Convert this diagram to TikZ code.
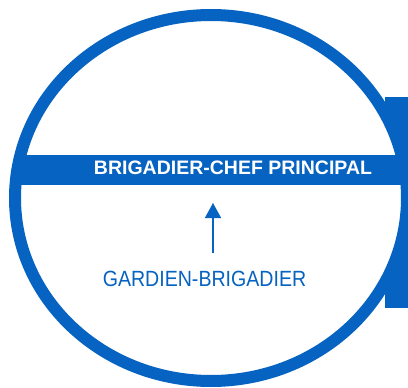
\documentclass[tikz,border=0pt]{standalone}
\usepackage{fontspec}
\setmainfont{Liberation Sans}
\newfontfamily\narrowsans[FakeStretch=0.89]{Liberation Sans}
\usetikzlibrary{arrows.meta}
\definecolor{mblue}{RGB}{6,99,193}
\tikzset{
  ring/.style={draw=mblue, line width=12pt},
  bandtext/.style={text=white, font=\bfseries\fontsize{19.5}{22}\selectfont, inner sep=0pt, anchor=base},
  lowtext/.style={text=mblue, font=\narrowsans\fontsize{22}{24}\selectfont, inner sep=0pt, anchor=base},
  uparrow/.style={draw=mblue, line width=1.5pt, -{Triangle[width=16pt,length=15pt]}}
}
\begin{document}
\begin{tikzpicture}[x=1pt,y=-1pt]
\useasboundingbox (0,0) rectangle (408,388);
% side tab
\fill[mblue] (385,97) rectangle (408,308);
% circle interior
\fill[white] (211,198) ellipse [x radius=196, y radius=183];
% band clipped inside circle
\begin{scope}
  \clip (211,198) ellipse [x radius=196, y radius=183];
  \fill[mblue] (0,155) rectangle (408,185);
\end{scope}
% ring
\draw[ring] (211,198) ellipse [x radius=196, y radius=183];
% texts
\node[bandtext] (chef) at (233,175) {BRIGADIER-CHEF PRINCIPAL};
\node[lowtext] (gardien) at (204.5,286) {GARDIEN-BRIGADIER};
\coordinate (astart) at (213,253);
\coordinate (aend) at (213,203);
\draw[uparrow] (astart) -- (aend);
\end{tikzpicture}
\end{document}
